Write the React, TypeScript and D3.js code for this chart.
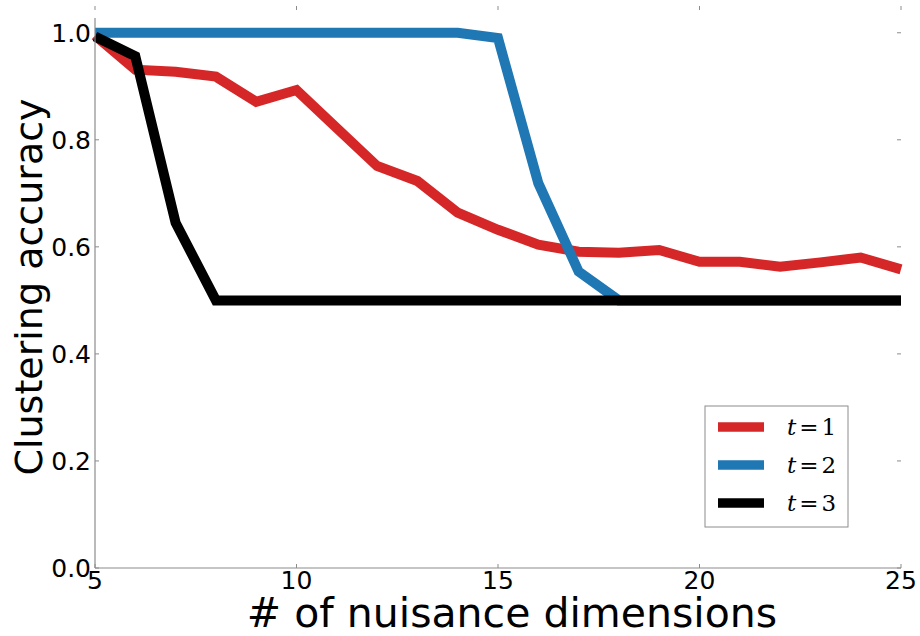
import React from "react";
import * as d3 from "d3";

const width = 920;
const height = 636;
const margin = { top: 6, right: 19, bottom: 68, left: 95 };

const dims = [5, 6, 7, 8, 9, 10, 11, 12, 13, 14, 15, 16, 17, 18, 19, 20, 21, 22, 23, 24, 25];
const accT1 = [0.995, 0.931, 0.927, 0.918, 0.871, 0.893, 0.822, 0.751, 0.723, 0.664, 0.632, 0.604, 0.591, 0.589, 0.594, 0.572, 0.572, 0.563, 0.571, 0.58, 0.558];
const accT2 = [1.0, 1.0, 1.0, 1.0, 1.0, 1.0, 1.0, 1.0, 1.0, 1.0, 0.99, 0.719, 0.554, 0.5, 0.5, 0.5, 0.5, 0.5, 0.5, 0.5, 0.5];
const accT3 = [0.993, 0.956, 0.645, 0.5, 0.5, 0.5, 0.5, 0.5, 0.5, 0.5, 0.5, 0.5, 0.5, 0.5, 0.5, 0.5, 0.5, 0.5, 0.5, 0.5, 0.5];

const seriesNames = ["1", "2", "3"];
const seriesColors = ["#d62728", "#1f77b4", "#000000"];
const seriesValues = [accT1, accT2, accT3];

const xTicks = [5, 10, 15, 20, 25];
const yTicks = [0.0, 0.2, 0.4, 0.6, 0.8, 1.0];

const xScale = d3.scaleLinear([5, 25], [margin.left, width - margin.right]);
const yScale = d3.scaleLinear([0, 1.05], [height - margin.bottom, margin.top]);

const axisColor = "#8c8c8c";
const font = "'DejaVu Sans', sans-serif";
const mathFont = "'DejaVu Serif', 'Liberation Serif', serif";

export default function App() {
  const line = d3
    .line<number>()
    .x((_, i) => xScale(dims[i]))
    .y((d) => yScale(d));

  const x0 = margin.left;
  const x1 = width - margin.right;
  const y0 = height - margin.bottom;
  const y1 = margin.top;
  const tickLen = 4;

  // legend box
  const lg = { x: 705, y: 406, w: 143, h: 121 };

  return (
    <svg
      width={width}
      height={height}
      style={{ position: "absolute", left: 0, top: 0, background: "#fff" }}
    >
      {/* ticks, inward on all four sides */}
      {xTicks.map((t) => (
        <g key={"xt" + t}>
          <line x1={xScale(t)} x2={xScale(t)} y1={y0} y2={y0 - tickLen} stroke={axisColor} />
          <line x1={xScale(t)} x2={xScale(t)} y1={y1} y2={y1 + tickLen} stroke={axisColor} />
          <text
            x={xScale(t)}
            y={589}
            textAnchor="middle"
            fontFamily={font}
            fontSize={25}
            fill="#000"
          >
            {t}
          </text>
        </g>
      ))}
      {yTicks.map((t) => (
        <g key={"yt" + t}>
          <line x1={x0} x2={x0 + tickLen} y1={yScale(t)} y2={yScale(t)} stroke={axisColor} />
          <line x1={x1} x2={x1 - tickLen} y1={yScale(t)} y2={yScale(t)} stroke={axisColor} />
          <text
            x={x0 - 4}
            y={yScale(t)}
            dy="0.36em"
            textAnchor="end"
            fontFamily={font}
            fontSize={25}
            fill="#000"
          >
            {t.toFixed(1)}
          </text>
        </g>
      ))}

      {/* lines */}
      {seriesValues.map((vals, i) => (
        <path
          key={"s" + i}
          d={line(vals) || ""}
          fill="none"
          stroke={seriesColors[i]}
          strokeWidth={10}
          strokeLinejoin="miter"
          strokeLinecap="butt"
        />
      ))}

      {/* spines */}
      <line x1={x0} x2={x0} y1={y1 + 12} y2={y0} stroke={axisColor} strokeWidth={1.2} />
      <line x1={x0} x2={x1} y1={y0} y2={y0} stroke={axisColor} strokeWidth={1.2} />

      {/* axis labels */}
      <text
        x={512}
        y={627}
        textAnchor="middle"
        fontFamily={font}
        fontSize={41}
        fill="#000"
      >
        # of nuisance dimensions
      </text>
      <text
        transform={`translate(42, 287) rotate(-90)`}
        textAnchor="middle"
        fontFamily={font}
        fontSize={38}
        fill="#000"
      >
        Clustering accuracy
      </text>

      {/* legend */}
      <rect x={lg.x} y={lg.y} width={lg.w} height={lg.h} fill="#fff" stroke={axisColor} strokeWidth={1} />
      {seriesNames.map((name, i) => {
        const cy = lg.y + 21 + i * 38;
        return (
          <g key={"lg" + i}>
            <line x1={718} x2={764} y1={cy} y2={cy} stroke={seriesColors[i]} strokeWidth={9.5} />
            <text x={787} y={cy} dy="0.35em" fontFamily={mathFont} fontSize={23} fill="#000">
              <tspan fontStyle="italic">t</tspan>
              <tspan dx={3}>=</tspan>
              <tspan dx={3}>{name}</tspan>
            </text>
          </g>
        );
      })}
    </svg>
  );
}
